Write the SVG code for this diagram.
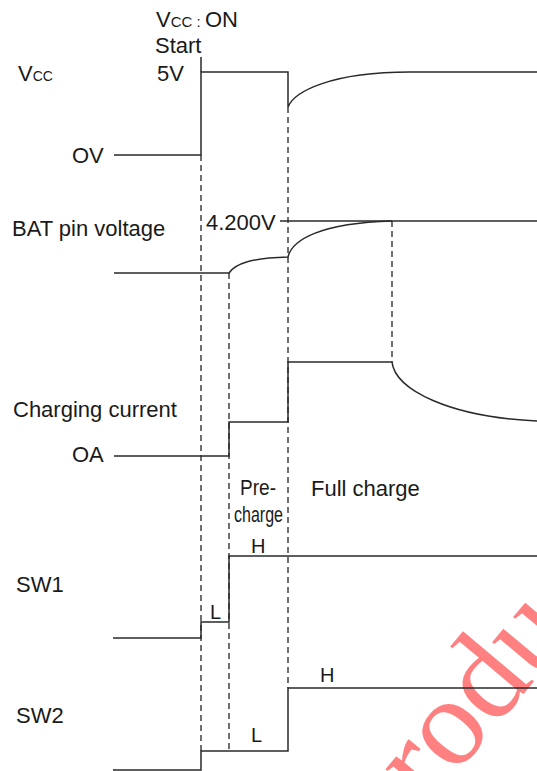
<svg xmlns="http://www.w3.org/2000/svg" width="537" height="771" viewBox="0 0 537 771">
<style>
.t{font-family:"Liberation Sans",Arial,sans-serif;font-size:22px;fill:#1a1a1a}
.s{font-size:20px}
.sig{fill:none;stroke:#2a2a2a;stroke-width:1.5}
.dash{fill:none;stroke:#333;stroke-width:1.4;stroke-dasharray:6 4}
.wm{font-family:"Liberation Serif","Times New Roman",serif;font-size:125px;fill:#ff8080}
</style>
<rect width="537" height="771" fill="#fff"/>
<text class="wm" transform="translate(427.8,808) rotate(-50)">rodu</text>
<g id="connectors">
<path class="dash" d="M201,155 V751"/>
<path class="dash" d="M229,273 V751"/>
<path class="dash" d="M288,107 V688"/>
<path class="dash" d="M392,221 V362"/>
</g>
<g id="vcc">
<text class="t" x="18" y="81">V<tspan font-size="14">CC</tspan></text>
<text class="t" x="157" y="81">5V</text>
<text class="t" x="72" y="163">OV</text>
<path class="sig" d="M201,57 V72"/>
<path class="sig" d="M114,155 H201 V72 H288 V107 C294,92 330,72 410,72 H537"/>
</g>
<g id="start">
<text class="t" x="156" y="27">V<tspan font-size="15">CC</tspan><tspan font-size="15"> : </tspan>ON</text>
<text class="t" x="155" y="53">Start</text>
</g>
<g id="bat">
<text class="t" x="12" y="236">BAT pin voltage</text>
<text class="t" x="206" y="230">4.200V</text>
<path class="sig" d="M280,221 H537"/>
<path class="sig" d="M114,273 H229 C235,264 250,258 288,257 C292,240 320,223 392,221"/>
</g>
<g id="current">
<text class="t" x="13" y="417">Charging current</text>
<text class="t" x="72" y="462">OA</text>
<path class="sig" d="M114,456 H229 V422 H288 V362 H392 C395,390 450,417 537,421"/>
</g>
<g id="phases">
<text class="t" x="240" y="495" textLength="36" lengthAdjust="spacingAndGlyphs">Pre-</text>
<text class="t" x="234" y="522" textLength="49" lengthAdjust="spacingAndGlyphs">charge</text>
<text class="t" x="311" y="496">Full charge</text>
</g>
<g id="sw1">
<text class="t" x="16" y="592">SW1</text>
<text class="t s" x="251" y="553">H</text>
<text class="t s" x="210" y="619">L</text>
<path class="sig" d="M113,638 H201 V622 H229 V556 H537"/>
</g>
<g id="sw2">
<text class="t" x="16" y="723">SW2</text>
<text class="t s" x="320" y="682">H</text>
<text class="t s" x="251" y="742">L</text>
<path class="sig" d="M113,770 H201 V751 H288 V688 H537"/>
</g>
</svg>
